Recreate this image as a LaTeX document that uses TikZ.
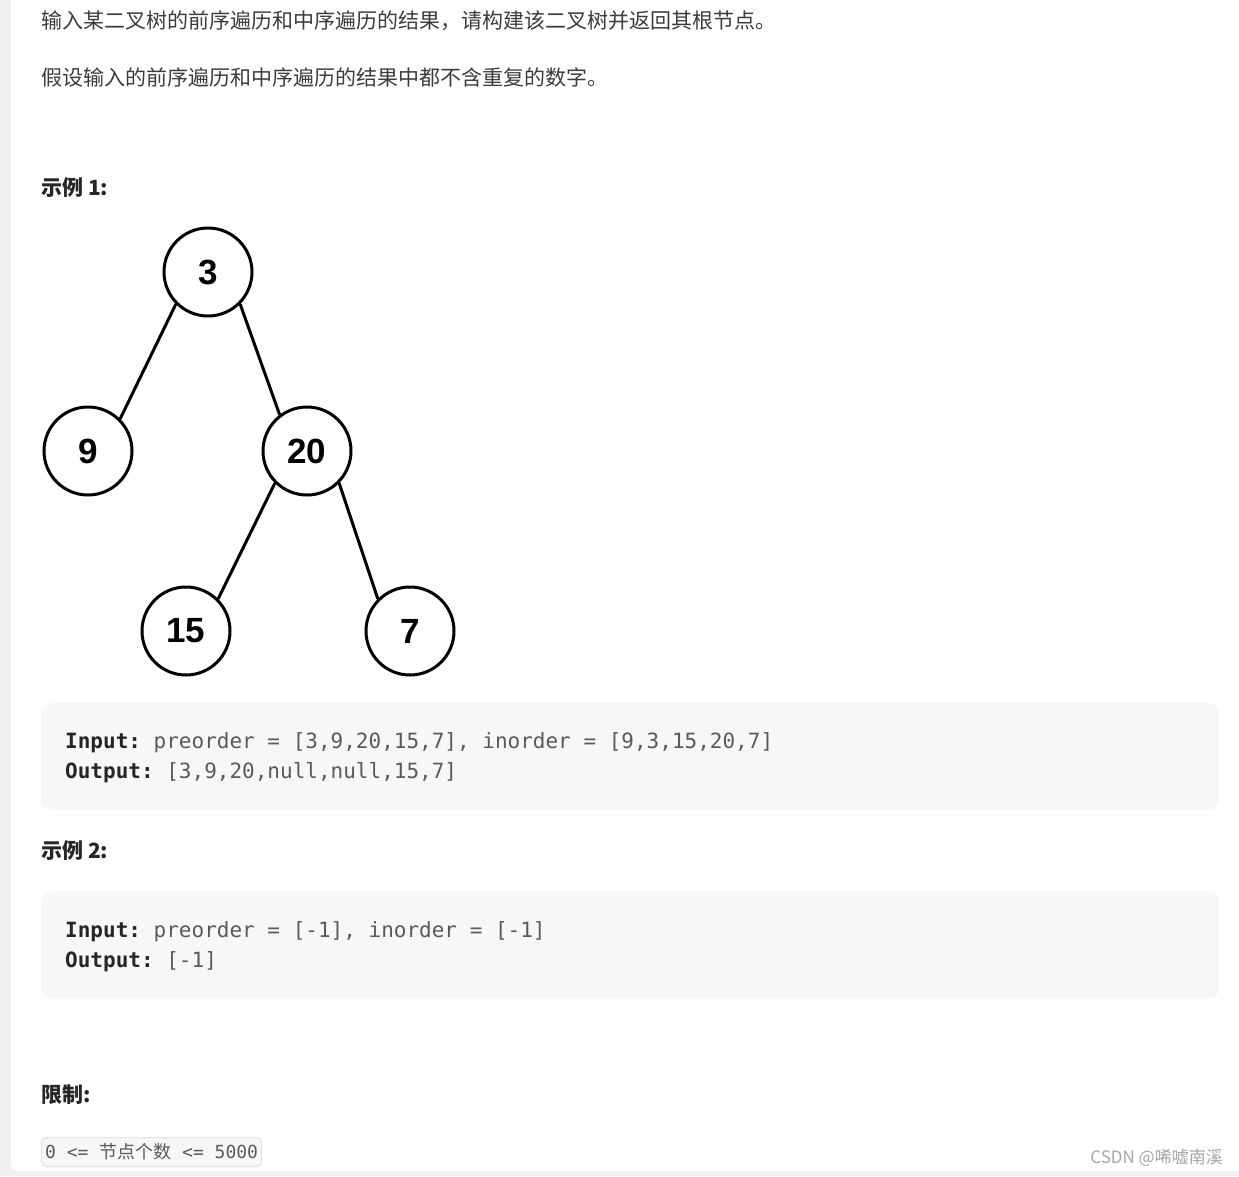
\documentclass[tikz,border=0pt]{standalone}
\usepackage{fontspec}
\setmainfont{Noto Sans CJK SC}
\newfontfamily\monof{DejaVu Sans Mono}
\newfontfamily\cjkf{Noto Sans CJK SC}
\newfontfamily\numf{Liberation Sans}
\definecolor{pagegray}{HTML}{F0F0F0}
\definecolor{bodytext}{HTML}{3C3C3C}
\definecolor{headtext}{HTML}{262626}
\definecolor{codebg}{HTML}{F7F7F7}
\definecolor{codetext}{HTML}{5A5A5A}
\definecolor{inlinebd}{HTML}{E3E3E3}
\definecolor{wmgray}{HTML}{A6A6A6}
\tikzset{
  bodytxt/.style={anchor=west, inner sep=0pt, text=bodytext, font=\fontsize{21}{25}\selectfont},
  headtxt/.style={anchor=west, inner sep=0pt, text=headtext, font=\fontsize{21}{25}\selectfont\bfseries},
  treenode/.style={circle, draw=black, line width=3pt, minimum size=88pt, inner sep=0pt, font=\numf\bfseries\fontsize{35}{40}\selectfont, text=black},
  treeedge/.style={line width=3pt, draw=black},
  codebox/.style={fill=codebg, rounded corners=10pt, anchor=north west, inner sep=0pt, minimum width=1178pt, minimum height=107pt},
  codetxt/.style={anchor=base west, inner sep=0pt, text=codetext, font=\monof\fontsize{21}{25}\selectfont\frenchspacing},
  inlinebox/.style={fill=codebg, draw=inlinebd, line width=1pt, rounded corners=5pt, anchor=north west, inner sep=0pt, minimum width=220pt, minimum height=29pt},
}
\newcommand{\kw}[1]{{\bfseries\color{headtext}#1}}
\begin{document}
\frenchspacing
\begin{tikzpicture}[x=1pt,y=-1pt]
\useasboundingbox (0,0) rectangle (1239,1176);
\fill[pagegray] (0,0) rectangle (1239,1176);
\fill[white, rounded corners=6pt] (11,-20) rectangle (1260,1171);

\node[bodytxt] (t1) at (41,21) {输入某二叉树的前序遍历和中序遍历的结果，请构建该二叉树并返回其根节点。};
\node[bodytxt] (t2) at (41,77) {假设输入的前序遍历和中序遍历的结果中都不含重复的数字。};

\node[headtxt] (h1) at (41,188) {示例 1:};

\node[treenode] (n3) at (208,272) {3};
\node[treenode] (n9) at (88,451) {9};
\node[treenode] (n20) at (307,451) {20};
\node[treenode] (n15) at (186,631) {15};
\node[treenode] (n7) at (410,631) {7};
\draw[treeedge] (n3.225) -- (n9.45);
\draw[treeedge] (n3.-45) -- (n20.127);
\draw[treeedge] (n20.225) -- (n15.45);
\draw[treeedge] (n20.-45) -- (n7.135);

\node[codebox] (cb1) at (41,703) {};
\node[codetxt] (c1a) at (65,748) {\kw{Input:} preorder = [3,9,20,15,7], inorder = [9,3,15,20,7]};
\node[codetxt] (c1b) at (65,778) {\kw{Output:} [3,9,20,null,null,15,7]};

\node[headtxt] (h2) at (41,851) {示例 2:};

\node[codebox] (cb2) at (41,891) {};
\node[codetxt] (c2a) at (65,937) {\kw{Input:} preorder = [-1], inorder = [-1]};
\node[codetxt] (c2b) at (65,967) {\kw{Output:} [-1]};

\node[headtxt] (h3) at (41,1095) {限制:};

\node[inlinebox] (ib) at (41,1137) {};
\node[anchor=base west, inner sep=0pt, text=codetext, font=\fontsize{18}{22}\selectfont] (ic) at (45,1158) {{\monof 0 <= }节点个数{\monof\ <= 5000}};

\node[anchor=east, inner sep=0pt, text=wmgray, font=\fontsize{17}{20}\selectfont] (wm) at (1223,1158) {CSDN @唏嘘南溪};
\end{tikzpicture}
\end{document}
